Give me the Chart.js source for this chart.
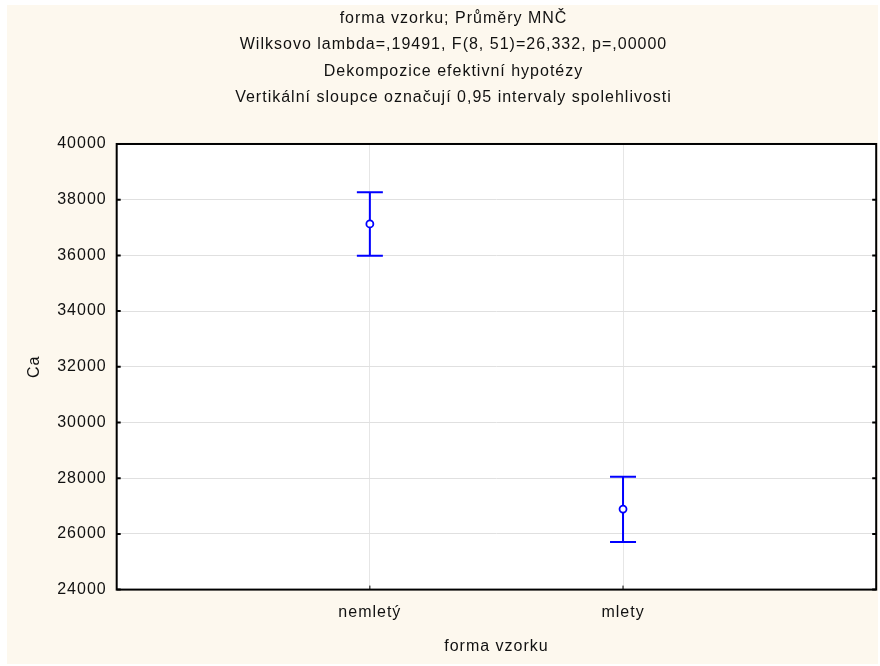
<!DOCTYPE html>
<html>
<head>
<meta charset="utf-8">
<script src="https://cdn.jsdelivr.net/npm/chart.js@4/dist/chart.umd.min.js"></script>
<style>
  html, body { margin: 0; padding: 0; background: #ffffff; overflow: hidden; }
  #wrap { position: absolute; left: 7px; top: 5px; width: 871px; height: 659px; background: #fdf8ee; }
  canvas { display: block; }
</style>
</head>
<body>
<div id="wrap"><canvas id="c" width="875" height="659"></canvas></div>
<script>
// ---- data ----
const categories = ["nemletý", "mlety"];
const means = [37130, 26890];
const lowerCI = [35990, 25710];
const upperCI = [38270, 28050];
const yTicks = [24000, 26000, 28000, 30000, 32000, 34000, 36000, 38000, 40000];
const titleLines = [
  "forma vzorku; Průměry MNČ",
  "Wilksovo lambda=,19491, F(8, 51)=26,332, p=,00000",
  "Dekompozice efektivní hypotézy",
  "Vertikální sloupce označují 0,95 intervaly spolehlivosti"
];
const xTitle = "forma vzorku";
const yTitle = "Ca";

const FONT = "'Liberation Sans', Arial, sans-serif";
const points = categories.map((c, i) => ({ x: i + 1, y: means[i] }));

const spacingPlugin = {
  id: 'spacing',
  beforeInit(chart) { chart.ctx.letterSpacing = '1px'; },
  beforeUpdate(chart) { chart.ctx.letterSpacing = '1px'; },
  beforeDraw(chart) { chart.ctx.letterSpacing = '1px'; }
};

const framePlugin = {
  id: 'frame',
  beforeDraw(chart) {
    const { ctx, chartArea: a } = chart;
    ctx.save();
    ctx.fillStyle = '#ffffff';
    ctx.fillRect(a.left, a.top, a.right - a.left, a.bottom - a.top);
    ctx.restore();
  },
  afterDatasetsDraw(chart) {
    const { ctx, chartArea: a, scales } = chart;
    const xs = scales.x, ys = scales.y;
    ctx.save();
    ctx.strokeStyle = '#0000ff';
    ctx.lineWidth = 2;
    categories.forEach((c, i) => {
      const px = xs.getPixelForValue(i + 1);
      const pLo = ys.getPixelForValue(lowerCI[i]);
      const pHi = ys.getPixelForValue(upperCI[i]);
      const pm = ys.getPixelForValue(means[i]);
      ctx.beginPath();
      ctx.moveTo(px, pHi); ctx.lineTo(px, pm - 4);
      ctx.moveTo(px, pm + 4); ctx.lineTo(px, pLo);
      ctx.moveTo(px - 13, pHi); ctx.lineTo(px + 13, pHi);
      ctx.moveTo(px - 13, pLo); ctx.lineTo(px + 13, pLo);
      ctx.stroke();
    });
    ctx.strokeStyle = '#000000';
    ctx.lineWidth = 2;
    ctx.strokeRect(a.left, a.top, a.right - a.left, a.bottom - a.top);
    ctx.beginPath();
    yTicks.forEach(v => {
      const py = ys.getPixelForValue(v);
      ctx.moveTo(a.left, py); ctx.lineTo(a.left + 4, py);
      ctx.moveTo(a.right, py); ctx.lineTo(a.right - 4, py);
    });
    ctx.stroke();
    ctx.lineWidth = 1;
    ctx.beginPath();
    categories.forEach((c, i) => {
      const px = xs.getPixelForValue(i + 1);
      ctx.moveTo(px, a.bottom); ctx.lineTo(px, a.bottom - 4);
    });
    ctx.stroke();
    ctx.restore();
  }
};

new Chart(document.getElementById('c'), {
  type: 'scatter',
  data: {
    datasets: [{
      data: points,
      pointStyle: 'circle',
      pointRadius: 3.5,
      pointBorderWidth: 1.8,
      pointBorderColor: '#0000ff',
      pointBackgroundColor: '#ffffff',
      showLine: false
    }]
  },
  options: {
    responsive: false,
    animation: false,
    layout: { padding: { left: 18, right: 0, top: 0, bottom: 8 } },
    plugins: {
      legend: { display: false },
      tooltip: { enabled: false },
      title: {
        display: true,
        text: titleLines,
        color: '#111111',
        font: { family: FONT, size: 16, weight: 'normal', lineHeight: 1.656 },
        padding: { top: 0, bottom: 33 }
      }
    },
    scales: {
      x: {
        type: 'linear',
        min: 0, max: 3,
        afterBuildTicks(axis) { axis.ticks = categories.map((c, i) => ({ value: i + 1 })); },
        ticks: {
          callback: (v) => categories[v - 1] || '',
          color: '#111111',
          font: { family: FONT, size: 16 },
          padding: 13,
          maxRotation: 0
        },
        grid: { color: '#e6e6e6', lineWidth: 1, drawTicks: false },
        border: { display: false },
        title: {
          display: true, text: xTitle, color: '#111111',
          font: { family: FONT, size: 16 }, padding: { top: 2, bottom: 0 }
        }
      },
      y: {
        min: 24000, max: 40000,
        afterBuildTicks(axis) { axis.ticks = yTicks.map(v => ({ value: v })); },
        ticks: {
          color: '#111111',
          font: { family: FONT, size: 16 },
          padding: 10,
          callback: (v) => String(v)
        },
        grid: { color: '#e0e0e0', lineWidth: 1, drawTicks: false },
        border: { display: false },
        title: {
          display: true, text: yTitle, color: '#111111',
          font: { family: FONT, size: 16 }, padding: { top: 0, bottom: 3 }
        }
      }
    }
  },
  plugins: [spacingPlugin, framePlugin]
});
</script>
</body>
</html>
